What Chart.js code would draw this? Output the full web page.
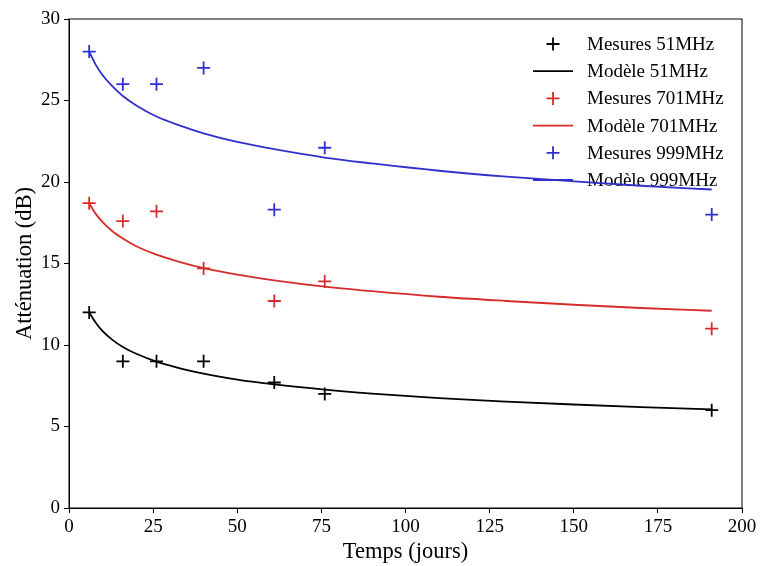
<!DOCTYPE html>
<html>
<head>
<meta charset="utf-8">
<script src="https://cdn.jsdelivr.net/npm/chart.js@4/dist/chart.umd.min.js"></script>
<style>
  body { margin: 0; background: #fff; }
  #wrap { width: 760px; height: 566px; }
</style>
</head>
<body>
<div id="wrap"><canvas id="chart-canvas" width="760" height="566"></canvas></div>
<script>
// measured days
const days = [6, 16, 26, 40, 61, 76, 191];
const mes51 = [12, 9, 9, 9, 7.7, 7, 6];
const mes701 = [18.7, 17.6, 18.2, 14.7, 12.7, 13.9, 11];
const mes999 = [28, 26, 26, 27, 18.3, 22.1, 18];

// model curves
const modelDays = [6, 8, 10, 13, 16, 20, 26, 33, 40, 50, 61, 76, 90, 110, 130, 150, 170, 191];
const mod51 = [12, 11.35, 10.85, 10.3, 9.88, 9.46, 8.98, 8.57, 8.24, 7.88, 7.58, 7.26, 7.02, 6.74, 6.53, 6.35, 6.19, 6.05];
const mod701 = [18.7, 18.03, 17.54, 16.96, 16.53, 16.06, 15.54, 15.09, 14.72, 14.32, 13.97, 13.58, 13.3, 12.96, 12.7, 12.47, 12.27, 12.1];
const mod999 = [28, 27.17, 26.55, 25.85, 25.28, 24.7, 24.02, 23.46, 22.99, 22.46, 22.01, 21.5, 21.14, 20.69, 20.33, 20.04, 19.77, 19.54];

const colors = { k: "#000000", r: "#d62b2b", b: "#3030cc" };

const pts = (xs, ys) => xs.map((x, i) => ({ x: x, y: ys[i] }));

const mesures = (label, xs, ys, c) => ({
  label: label,
  data: pts(xs, ys),
  showLine: false,
  pointStyle: "cross",
  pointRadius: 6.5,
  pointHoverRadius: 6.5,
  borderColor: c,
  backgroundColor: c,
  borderWidth: 1.8,
});

const modele = (label, xs, ys, c) => ({
  label: label,
  data: pts(xs, ys),
  showLine: true,
  pointRadius: 0,
  borderColor: c,
  backgroundColor: c,
  borderWidth: 1.8,
  cubicInterpolationMode: "monotone",
});

const serif = "'Liberation Serif', 'Times New Roman', serif";

// legend drawn inside the plot, top right, no frame
const insideLegend = {
  id: "insideLegend",
  beforeDatasetsDraw(chart) {
    const ctx = chart.ctx;
    ctx.save();
    ctx.font = "19px " + serif;
    ctx.textBaseline = "middle";
    ctx.textAlign = "left";
    chart.data.datasets.forEach((ds, i) => {
      const y = 44 + 27.2 * i;
      ctx.strokeStyle = ds.borderColor;
      ctx.lineWidth = 1.8;
      ctx.beginPath();
      if (ds.showLine) {
        ctx.moveTo(533, y);
        ctx.lineTo(573, y);
      } else {
        ctx.moveTo(546.5, y);
        ctx.lineTo(559.5, y);
        ctx.moveTo(553, y - 6.5);
        ctx.lineTo(553, y + 6.5);
      }
      ctx.stroke();
      ctx.fillStyle = "#000";
      ctx.fillText(ds.label, 587, y + 1);
    });
    ctx.restore();
  },
  afterDraw(chart) {
    const a = chart.chartArea;
    const ctx = chart.ctx;
    ctx.save();
    ctx.strokeStyle = "#000";
    ctx.lineWidth = 1;
    ctx.strokeRect(a.left, a.top, a.right - a.left, a.bottom - a.top);
    ctx.restore();
  },
};

let ctx = document.getElementById("chart-canvas");

let chart = new Chart(ctx, {
  type: "scatter",
  data: {
    datasets: [
      mesures("Mesures 51MHz", days, mes51, colors.k),
      modele("Modèle 51MHz", modelDays, mod51, colors.k),
      mesures("Mesures 701MHz", days, mes701, colors.r),
      modele("Modèle 701MHz", modelDays, mod701, colors.r),
      mesures("Mesures 999MHz", days, mes999, colors.b),
      modele("Modèle 999MHz", modelDays, mod999, colors.b),
    ],
  },
  options: {
    responsive: false,
    animation: false,
    devicePixelRatio: 1,
    layout: { padding: { left: 0, right: 18, top: 19, bottom: 0 } },
    plugins: {
      legend: { display: false },
      tooltip: { enabled: false },
    },
    scales: {
      x: {
        type: "linear",
        min: 0,
        max: 200,
        ticks: {
          stepSize: 25,
          color: "#000",
          font: { family: serif, size: 19 },
          padding: 3,
          maxRotation: 0,
        },
        grid: { drawOnChartArea: false, tickLength: 5, tickColor: "#000" },
        border: { display: true, color: "#000" },
        title: {
          display: true,
          text: "Temps (jours)",
          color: "#000",
          font: { family: serif, size: 22.5 },
          padding: { top: 0, bottom: 0 },
        },
        afterFit: (scale) => { scale.height = 58; },
      },
      y: {
        min: 0,
        max: 30,
        ticks: {
          stepSize: 5,
          color: "#000",
          font: { family: serif, size: 19 },
          padding: 4,
        },
        grid: { drawOnChartArea: false, tickLength: 5, tickColor: "#000" },
        border: { display: true, color: "#000" },
        title: {
          display: true,
          text: "Atténuation (dB)",
          color: "#000",
          font: { family: serif, size: 22.5 },
          padding: { top: 12, bottom: 0 },
        },
        afterFit: (scale) => { scale.width = 69; },
      },
    },
  },
  plugins: [insideLegend],
});
</script>
</body>
</html>
